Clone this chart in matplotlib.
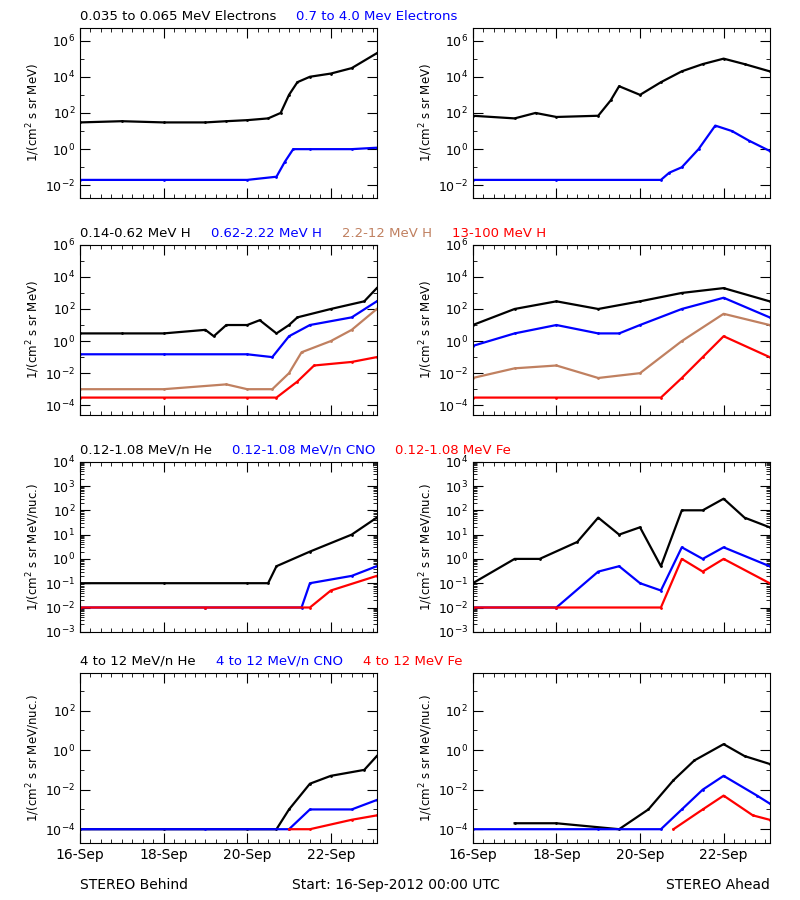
import matplotlib.pyplot as plt
import numpy as np
from matplotlib.ticker import LogLocator, FuncFormatter, MultipleLocator, NullFormatter, FixedLocator

plt.rcParams['font.family'] = 'DejaVu Sans'
plt.rcParams['font.size'] = 9

BRN = '#c08060'
# x = days since 16-Sep-2012 00:00
# row 1: electrons
e1_lx = [0, 1, 2, 3, 3.5, 4, 4.5, 4.8, 5.0, 5.2, 5.5, 6, 6.5, 7.1]
e1_lk = [30, 35, 30, 30, 35, 40, 50, 100, 1e3, 5e3, 1e4, 1.5e4, 3e4, 2e5]
e1_lbx = [0, 2, 4, 4.7, 4.9, 5.1, 5.5, 6.5, 7.1]
e1_lb = [0.02, 0.02, 0.02, 0.03, 0.2, 1, 1, 1, 1.2]
e1_rx = [0, 1, 1.5, 2, 3, 3.3, 3.5, 4, 4.5, 5, 5.5, 6, 6.5, 7.1]
e1_rk = [70, 50, 100, 60, 70, 500, 3e3, 1e3, 5e3, 2e4, 5e4, 1e5, 5e4, 2e4]
e1_rbx = [0, 2, 4.5, 4.7, 5, 5.4, 5.8, 6.2, 6.6, 7.1]
e1_rb = [0.02, 0.02, 0.02, 0.05, 0.1, 1, 20, 10, 3, 0.8]

# row 2: protons
p_lx = [0, 1, 2, 3, 3.2, 3.5, 4, 4.3, 4.7, 5.0, 5.2, 6, 6.8, 7.1]
p_lk = [3, 3, 3, 5, 2, 10, 10, 20, 3, 10, 30, 100, 300, 2000]
p_lbx = [0, 2, 4, 4.6, 5, 5.5, 6.5, 7.1]
p_lb = [0.15, 0.15, 0.15, 0.1, 2, 10, 30, 300]
p_lcx = [0, 2, 3.5, 4, 4.6, 5, 5.3, 6, 6.5, 7.1]
p_lc = [1e-3, 1e-3, 2e-3, 1e-3, 1e-3, 0.01, 0.2, 1, 5, 100]
p_lrx = [0, 2, 4, 4.7, 5.2, 5.6, 6.5, 7.1]
p_lr = [3e-4, 3e-4, 3e-4, 3e-4, 3e-3, 0.03, 0.05, 0.1]
p_rx = [0, 1, 2, 3, 4, 5, 6, 7.1]
p_rk = [10, 100, 300, 100, 300, 1000, 2000, 300]
p_rbx = [0, 1, 2, 3, 3.5, 4, 5, 6, 7.1]
p_rb = [0.5, 3, 10, 3, 3, 10, 100, 500, 30]
p_rcx = [0, 1, 2, 3, 4, 5, 6, 7.1]
p_rc = [0.005, 0.02, 0.03, 0.005, 0.01, 1, 50, 10]
p_rrx = [0, 2, 4.5, 5, 5.5, 6, 7.1]
p_rr = [3e-4, 3e-4, 3e-4, 0.005, 0.1, 2, 0.1]

# row 3: low-energy ions
i_lx = [0, 2, 4, 4.5, 4.7, 5.5, 6.5, 7.1]
i_lk = [0.1, 0.1, 0.1, 0.1, 0.5, 2, 10, 50]
i_lbx = [0, 3, 5.3, 5.5, 6.5, 7.1]
i_lb = [0.01, 0.01, 0.01, 0.1, 0.2, 0.5]
i_lrx = [0, 3, 5.5, 6, 7.1]
i_lr = [0.01, 0.01, 0.01, 0.05, 0.2]
i_rx = [0, 1, 1.6, 2.5, 3, 3.5, 4, 4.5, 5, 5.5, 6, 6.5, 7.1]
i_rk = [0.1, 1, 1, 5, 50, 10, 20, 0.5, 100, 100, 300, 50, 20]
i_rbx = [0, 2, 3, 3.5, 4, 4.5, 5, 5.5, 6, 7.1]
i_rb = [0.01, 0.01, 0.3, 0.5, 0.1, 0.05, 3, 1, 3, 0.5]
i_rrx = [0, 2, 4.5, 5, 5.5, 6, 7.1]
i_rr = [0.01, 0.01, 0.01, 1, 0.3, 1, 0.1]

# row 4: high-energy ions
h_lx = [0, 2, 4, 4.7, 5, 5.5, 6, 6.8, 7.1]
h_lk = [1e-4, 1e-4, 1e-4, 1e-4, 1e-3, 0.02, 0.05, 0.1, 0.5]
h_lbx = [0, 3, 5, 5.5, 6.5, 7.1]
h_lb = [1e-4, 1e-4, 1e-4, 1e-3, 1e-3, 3e-3]
h_lrx = [5, 5.5, 6.5, 7.1]
h_lr = [1e-4, 1e-4, 3e-4, 5e-4]
h_rx = [1, 2, 3.5, 4.2, 4.8, 5.3, 6, 6.5, 7.1]
h_rk = [2e-4, 2e-4, 1e-4, 1e-3, 0.03, 0.3, 2, 0.5, 0.2]
h_rbx = [0, 3, 4.5, 5, 5.5, 6, 6.8, 7.1]
h_rb = [1e-4, 1e-4, 1e-4, 1e-3, 0.01, 0.05, 0.005, 0.002]
h_rrx = [4.8, 5.5, 6, 6.7, 7.1]
h_rr = [1e-4, 1e-3, 5e-3, 5e-4, 3e-4]

rows = [
    (2e-3, 5e6, 2, '1/(cm$^2$ s sr MeV)',
     [(e1_lx, e1_lk, 'k'), (e1_lbx, e1_lb, 'b')],
     [(e1_rx, e1_rk, 'k'), (e1_rbx, e1_rb, 'b')],
     [('0.035 to 0.065 MeV Electrons', 'k'), ('0.7 to 4.0 Mev Electrons', 'b')]),
    (2.5e-5, 1e6, 2, '1/(cm$^2$ s sr MeV)',
     [(p_lx, p_lk, 'k'), (p_lbx, p_lb, 'b'), (p_lcx, p_lc, BRN), (p_lrx, p_lr, 'r')],
     [(p_rx, p_rk, 'k'), (p_rbx, p_rb, 'b'), (p_rcx, p_rc, BRN), (p_rrx, p_rr, 'r')],
     [('0.14-0.62 MeV H', 'k'), ('0.62-2.22 MeV H', 'b'), ('2.2-12 MeV H', BRN), ('13-100 MeV H', 'r')]),
    (1e-3, 1e4, 1, '1/(cm$^2$ s sr MeV/nuc.)',
     [(i_lx, i_lk, 'k'), (i_lbx, i_lb, 'b'), (i_lrx, i_lr, 'r')],
     [(i_rx, i_rk, 'k'), (i_rbx, i_rb, 'b'), (i_rrx, i_rr, 'r')],
     [('0.12-1.08 MeV/n He', 'k'), ('0.12-1.08 MeV/n CNO', 'b'), ('0.12-1.08 MeV Fe', 'r')]),
    (2e-5, 8e3, 2, '1/(cm$^2$ s sr MeV/nuc.)',
     [(h_lx, h_lk, 'k'), (h_lbx, h_lb, 'b'), (h_lrx, h_lr, 'r')],
     [(h_rx, h_rk, 'k'), (h_rbx, h_rb, 'b'), (h_rrx, h_rr, 'r')],
     [('4 to 12 MeV/n He', 'k'), ('4 to 12 MeV/n CNO', 'b'), ('4 to 12 MeV Fe', 'r')]),
]

fig = plt.figure(figsize=(8, 9), dpi=100)
bottoms = [0.78, 0.539, 0.298, 0.0633]
lefts = [0.1, 0.591]
fmt = FuncFormatter(lambda v, p: '10$^{%d}$' % round(np.log10(v)))
xticklabels = ['16-Sep', '18-Sep', '20-Sep', '22-Sep']

for r, (ylo, yhi, step, ylab, left, right, titles) in enumerate(rows):
    major = [10.0 ** k for k in range(-8, 9, step) if ylo <= 10.0 ** k <= yhi * 1.001]
    for c, series in enumerate([left, right]):
        ax = fig.add_axes([lefts[c], bottoms[r], 0.371, 0.189])
        for xs, ys, col in series:
            ax.plot(xs, ys, color=col, lw=1.6, marker='.', ms=2)
        ax.set_yscale('log')
        ax.set_ylim(ylo, yhi)
        ax.set_xlim(0, 7.1)
        ax.yaxis.set_major_locator(FixedLocator(major))
        if step == 1:
            ax.yaxis.set_minor_locator(LogLocator(base=10.0, subs=(2, 3, 4, 5, 6, 7, 8, 9), numticks=30))
        else:
            ax.yaxis.set_minor_locator(LogLocator(base=10.0, subs=(1.0,), numticks=30))
        ax.yaxis.set_major_formatter(fmt)
        ax.yaxis.set_minor_formatter(NullFormatter())
        ax.xaxis.set_major_locator(MultipleLocator(2))
        ax.xaxis.set_minor_locator(MultipleLocator(0.25))
        ax.tick_params(which='both', direction='in', top=True, right=True, labelsize=9)
        ax.tick_params(which='major', length=7)
        ax.tick_params(which='minor', length=3)
        ax.set_ylabel(ylab, fontsize=8.5, labelpad=2)
        if r == 3:
            ax.set_xticks([0, 2, 4, 6])
            ax.set_xticklabels(xticklabels, fontsize=10)
        else:
            ax.set_xticklabels([])
    # row title
    xpos = 0.1
    ytop = bottoms[r] + 0.189 + 0.009
    for txt, col in titles:
        t = fig.text(xpos, ytop, txt, color=col, fontsize=9.5)
        fig.canvas.draw()
        bb = t.get_window_extent()
        xpos += bb.width / 800 + 0.025

fig.text(0.1, 0.012, 'STEREO Behind', fontsize=10)
fig.text(0.365, 0.012, 'Start: 16-Sep-2012 00:00 UTC', fontsize=10)
fig.text(0.962, 0.012, 'STEREO Ahead', fontsize=10, ha='right')
fig.savefig('out.png', dpi=100)
